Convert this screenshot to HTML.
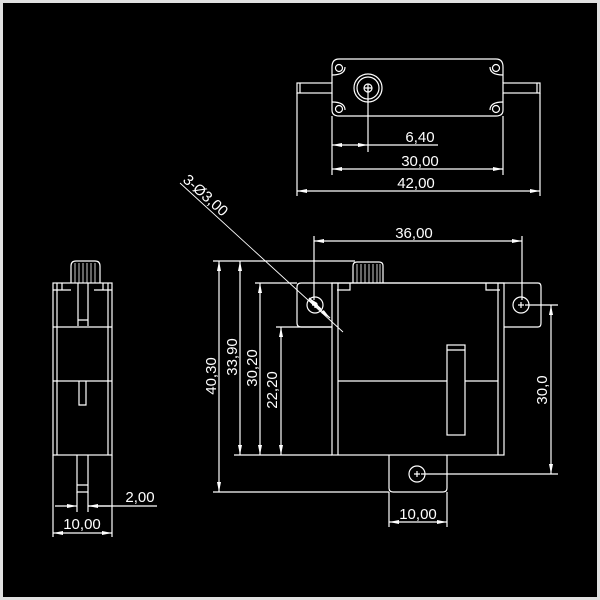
<!DOCTYPE html>
<html><head><style>
html,body{margin:0;padding:0;background:#000;}
svg{display:block;}
text{font-family:"Liberation Sans",sans-serif;font-size:15px;fill:#fff;}
</style></head><body>
<svg width="600" height="600" viewBox="0 0 600 600" xmlns="http://www.w3.org/2000/svg">
<defs>
<marker id="a" viewBox="0 0 10 4" refX="10" refY="2" markerWidth="10" markerHeight="4" orient="auto-start-reverse" markerUnits="userSpaceOnUse"><path d="M0,0L10,2L0,4z" fill="#fff"/></marker>
</defs>
<rect x="0" y="0" width="600" height="600" fill="#000"/>
<rect x="1.5" y="1.5" width="597" height="597" fill="none" stroke="#e0e0e0" stroke-width="3"/>
<g stroke="#fff" stroke-width="1.2" fill="none">
<path d="M339,59 H496 M332,67 V83 M503,67 V83 M332,93 V110 M503,93 V110 M339,116 H496"/>
<path d="M332,67 Q332,59 339,59 M496,59 Q503,59 503,67 M332,110 Q332,116 339,116 M496,116 Q503,116 503,110"/>
<path d="M332,75 Q345,75 345,67 M503,75 Q490,75 490,67 M332,102 Q345,102 345,110 M503,102 Q490,102 490,110"/>
<circle cx="339" cy="68" r="3.5"/><circle cx="496" cy="68" r="3.5"/>
<circle cx="339" cy="109" r="3.5"/><circle cx="496" cy="109" r="3.5"/>
<rect x="297" y="83" width="35" height="10"/><rect x="503" y="83" width="37" height="10"/>
<path d="M300,83 V93 M537,83 V93"/>
<circle cx="368" cy="88" r="14"/><circle cx="368" cy="88" r="11"/><circle cx="368" cy="88" r="4"/>
<path d="M364,88 H372 M368,84 V92"/>
<path d="M368,88 V152"/>
<path d="M332,116 V175 M503,116 V175 M297,93 V196 M540,93 V196"/>
<path d="M332,145 H368" marker-start="url(#a)" marker-end="url(#a)"/>
<path d="M368,145 H438"/>
<path d="M332,169 H503" marker-start="url(#a)" marker-end="url(#a)"/>
<path d="M297,191 H540" marker-start="url(#a)" marker-end="url(#a)"/>
<path d="M301,283 H538 Q541,283 541,287 V323 Q541,327 538,327 H504"/>
<path d="M332,327 H301 Q297,327 297,323 V287 Q297,283 301,283"/>
<rect x="332" y="283" width="172" height="172"/>
<path d="M338,283 V455 M498,283 V455"/>
<path d="M337,290 H350 V283 M500,290 H486 V283"/>
<path d="M338,381 H447 M465,381 H498"/>
<rect x="447" y="345" width="18" height="90"/><path d="M447,350 H465"/>
<path d="M353,283 V266 Q353,262 357,262 H379 Q383,262 383,266 V283"/>
<path d="M357,264 V283 M361,264 V283 M365,264 V283 M369,264 V283 M373,264 V283 M377,264 V283 M380,264 V283" stroke-width="0.8"/>
<circle cx="315" cy="305" r="8"/><path d="M312,305 H318 M315,302 V308"/>
<circle cx="521" cy="305" r="8"/><path d="M518,305 H524 M521,302 V308"/>
<path d="M389,455 V488 Q389,492 393,492 H443 Q447,492 447,488 V455"/>
<circle cx="417" cy="474" r="8"/><path d="M414,474 H420 M417,471 V477"/>
<path d="M314,236 V300 M522,236 V300"/>
<path d="M213,261 H355 M234,455 H332 M255,283 H297 M276,327 H332 M213,492 H389"/>
<path d="M525,305 H558 M421,474 H558"/>
<path d="M389,492 V527 M447,492 V527"/>
<path d="M314,241 H522" marker-start="url(#a)" marker-end="url(#a)"/>
<path d="M219,261 V492" marker-start="url(#a)" marker-end="url(#a)"/>
<path d="M240,261 V455" marker-start="url(#a)" marker-end="url(#a)"/>
<path d="M260,283 V455" marker-start="url(#a)" marker-end="url(#a)"/>
<path d="M281,327 V455" marker-start="url(#a)" marker-end="url(#a)"/>
<path d="M551,305 V474" marker-start="url(#a)" marker-end="url(#a)"/>
<path d="M389,522 H447" marker-start="url(#a)" marker-end="url(#a)"/>
<path d="M180,183 L343,332" stroke-width="0.9"/>
<path d="M321,309 L309,298" marker-end="url(#a)"/>
<path d="M309,300 L330,318" marker-end="url(#a)"/>
<path d="M71,283 V266 Q71,261 76,261 H95 Q100,261 100,266 V283"/>
<path d="M75,263 V283 M79,263 V283 M83,263 V283 M87,263 V283 M91,263 V283 M95,263 V283" stroke-width="0.8"/>
<rect x="53" y="283" width="59" height="172"/>
<path d="M57,283 V455 M108,283 V455"/>
<path d="M53,290 H71 M62,283 V290 M112,290 H94 M103,283 V290"/>
<path d="M53,327 H112 M53,381 H112"/>
<path d="M78,283 V326 M88,283 V326 M78,320 H88"/>
<path d="M79,381 V405 H86 V381"/>
<path d="M77,455 V492 H88 V455 M77,485 H88"/>
<path d="M53,455 V537 M112,455 V537 M77,492 V512 M88,492 V512"/>
<path d="M55,506 H77" marker-end="url(#a)"/>
<path d="M110,506 H88" marker-end="url(#a)"/>
<path d="M88,506 H157"/>
<path d="M53,533 H112" marker-start="url(#a)" marker-end="url(#a)"/>
</g>
<text x="420" y="142" text-anchor="middle">6,40</text>
<text x="420" y="166" text-anchor="middle">30,00</text>
<text x="416" y="188" text-anchor="middle">42,00</text>
<text x="414" y="238" text-anchor="middle">36,00</text>
<text transform="translate(216,376) rotate(-90)" text-anchor="middle">40,30</text>
<text transform="translate(237,357) rotate(-90)" text-anchor="middle">33,90</text>
<text transform="translate(257,368) rotate(-90)" text-anchor="middle">30,20</text>
<text transform="translate(277,390) rotate(-90)" text-anchor="middle">22,20</text>
<text transform="translate(547,390) rotate(-90)" text-anchor="middle">30,0</text>
<text x="418" y="519" text-anchor="middle">10,00</text>
<text x="140" y="502" text-anchor="middle">2,00</text>
<text x="82" y="529" text-anchor="middle">10,00</text>
<text transform="translate(182,181) rotate(41.7)">3-Ø3,00</text>
</svg>
</body></html>
